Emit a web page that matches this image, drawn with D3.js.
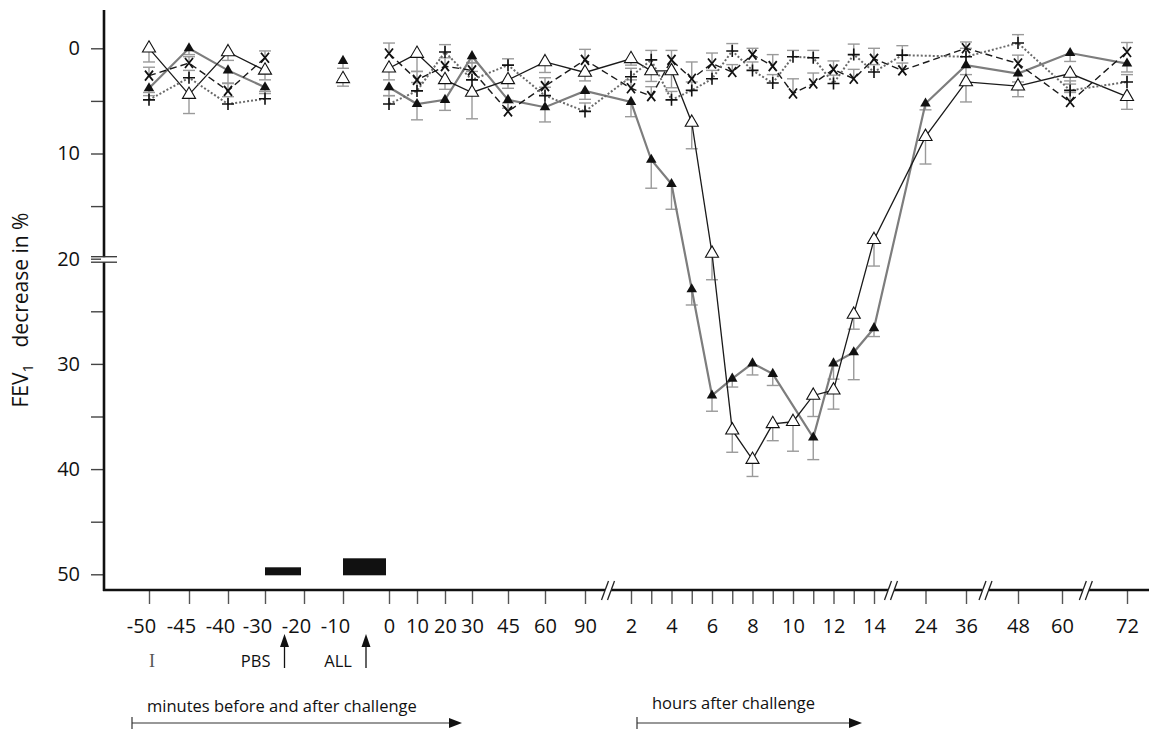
<!DOCTYPE html>
<html>
<head>
<meta charset="utf-8">
<script src="https://cdn.jsdelivr.net/npm/d3@7"></script>
<style>
  body { margin: 0; background: #fff; }
  svg { display: block; font-family: "Open Sans", sans-serif; }
</style>
</head>
<body>
<div id="chart"></div>
<script>
// sampling times: minutes around the challenge, then hours after it
const minuteTimes = [-50, -45, -40, -30, -10, 0, 10, 20, 30, 45, 60, 90];
const hourTimes = [2, 3, 4, 5, 6, 7, 8, 9, 10, 11, 12, 13, 14, 19.5, 24, 36, 48, 61.5, 72];

// FEV1 decrease in % (null = no point), errors are signed: + drawn downwards, - upwards
const filledTriangle = [3.8, 0.0, 2.1, 3.7, 1.2, 3.7, 5.3, 4.9, 0.75, 4.9, 5.6, 4.05,
  5.1, 10.6, 12.9, 22.9, 33.0, 31.4, 29.95, 30.95, null, 37.0, 29.95, 28.9, 26.6, null, 5.25, 1.6, 2.4, 0.45, 1.45];
const filledTriangleErr = [0.7, 0.6, 1.2, 0.6, 0.7, 0.8, 1.5, 1.0, 0.6, 0.8, 1.4, 0.8,
  1.4, 2.7, 2.4, 1.5, 1.5, 0.8, 1.1, 1.1, null, 2.1, 1.5, 2.6, 0.8, null, 0.6, 0.9, 0.8, 0.8, 0.8];

const openTriangle = [0.0, 4.4, 0.35, 2.1, 2.9, 1.9, 0.5, 3.0, 4.2, 3.0, 1.3, 2.3,
  1.0, 2.15, 2.15, 7.05, 19.5, 36.3, 39.1, 35.7, 35.5, 33.0, 32.5, 25.3, 18.2, null, 8.4, 3.2, 3.6, 2.4, 4.6];
const openTriangleErr = [1.3, 1.8, 0.8, 0.9, 0.7, 1.1, 1.7, 0.9, 2.5, 0.8, 1.0, 0.8,
  0.6, 1.0, 1.6, 2.5, 2.5, 2.1, 1.6, 1.6, 2.8, 2.0, 1.8, 1.4, 2.5, null, 2.6, 1.9, 1.0, 1.0, 1.2];

const crossX = [2.6, 1.4, 4.05, 0.9, null, 0.5, 3.0, 1.7, 2.1, 6.0, 3.6, 1.1,
  3.8, 4.55, 1.1, 2.9, 1.45, 2.25, 0.6, 1.7, 4.3, 3.35, 2.0, 2.9, 1.0, 2.1, null, 0.0, 1.45, 5.1, 0.35];
const crossXErr = [-0.8, -0.6, -0.7, -0.65, null, -1.0, -0.8, -0.8, -0.7, -0.8, -0.8, -1.0,
  -0.8, -0.9, -0.9, -1.6, -1.0, -0.7, -0.6, -1.1, -1.4, -1.0, -0.8, -0.9, -1.0, -0.7, null, -0.6, -0.8, -0.9, -0.9];

const plus = [4.9, 2.8, 5.3, 4.8, null, 5.3, 4.05, 0.35, 3.0, 1.6, 4.5, 6.0,
  2.7, 1.1, 4.9, 4.0, 2.9, 0.25, 2.1, 3.3, 0.8, 0.9, 3.35, 0.6, 2.25, 0.65, null, 0.8, -0.5, 4.0, 3.2];
const plusErr = [-0.7, -0.7, -0.7, -0.7, null, -0.8, -0.8, -0.7, -0.8, -0.6, -0.8, -0.8,
  -0.8, -0.9, -0.8, -0.8, -0.8, -0.7, -0.8, -0.8, -0.6, -0.7, -0.8, -1.0, -0.7, -0.9, null, -0.8, -0.8, -0.9, -0.7];

// axis ticks
const minuteTicks = [-50, -45, -40, -30, -20, -10, 0, 10, 20, 30, 45, 60, 90];
const hourTicks = [2, 3, 4, 5, 6, 7, 8, 9, 10, 11, 12, 13, 14, 24, 36, 48, 60, 72];
const hourTickLabels = ["2", "", "4", "", "6", "", "8", "", "10", "", "12", "", "14", "24", "36", "48", "60", "72"];
const yTicks = [0, 5, 10, 15, 20, 25, 30, 35, 40, 45, 50];

// inhalation periods (minutes)
const inhalationLabels = ["PBS", "ALL"];
const inhalationStart = [-30, -10];
const inhalationEnd = [-20, 0];
const inhalationArrow = [-25, -5];

// axis breaks (minutes) and connected runs of the curves
const axisBreaks = [105, 1038, 2430, 3864];
const connectedRuns = [[-50, -30], [0, 4320]];

// piecewise axis layout: knot times (min) -> pixel columns
const axisKnots = [-50, -45, -40, -30, -20, -10, 0, 10, 20, 30, 45, 60, 90, 120, 840, 1440, 2160, 2880, 3600, 4320];
const axisKnotPx = [149, 189, 228, 265, 304, 343, 389, 417, 445, 472, 508, 545, 585, 631, 874, 925.5, 966, 1018, 1062, 1127];

const width = 1149, height = 730;
const axisY = 590, axisX = 104;

const times = minuteTimes.concat(hourTimes.map(h => h * 60));

const x = d3.scaleLinear().domain(axisKnots).range(axisKnotPx);
const y = d3.scaleLinear().domain([0, 50]).range([48.3, 574.3]);

const svg = d3.select("#chart").append("svg")
    .attr("width", width)
    .attr("height", height);

svg.append("rect").attr("width", width).attr("height", height).attr("fill", "#fff");

// y axis
const yAxis = svg.append("g")
    .attr("transform", `translate(${axisX},0)`)
    .call(d3.axisLeft(y).tickValues(yTicks).tickFormat(d => d % 10 ? "" : d).tickSize(13).tickPadding(11));
yAxis.select(".domain").remove();
yAxis.selectAll(".tick line").attr("stroke", "#444").attr("stroke-width", 1.4);
yAxis.selectAll(".tick text").attr("font-size", 20).attr("fill", "#111").attr("font-family", "Open Sans");

svg.append("line")
    .attr("x1", axisX).attr("x2", axisX)
    .attr("y1", 10).attr("y2", axisY + 1)
    .attr("stroke", "#111").attr("stroke-width", 2.6);

// break on the y axis at 20
svg.append("rect").attr("x", axisX - 3).attr("y", y(20) - 1.5).attr("width", 6).attr("height", 5).attr("fill", "#fff");
[-2, 3.5].forEach(off => {
    svg.append("line")
        .attr("x1", axisX - 13).attr("x2", axisX + 13)
        .attr("y1", y(20) + off).attr("y2", y(20) + off)
        .attr("stroke", "#333").attr("stroke-width", 1.3);
});

// y label
const yLabel = svg.append("text")
    .attr("transform", `translate(28,${310}) rotate(-90)`)
    .attr("text-anchor", "middle")
    .attr("font-size", 21)
    .attr("fill", "#111");
yLabel.append("tspan").text("FEV");
yLabel.append("tspan").attr("font-size", 15).attr("dy", 5).text("1");
yLabel.append("tspan").attr("dy", -5).text("\u00a0\u00a0 decrease in %");

// x axis
const tickTimes = minuteTicks.concat(hourTicks.map(h => h * 60));
const tickLabels = minuteTicks.map(String).concat(hourTickLabels);

const xAxis = svg.append("g")
    .attr("transform", `translate(0,${axisY})`)
    .call(d3.axisBottom(x).tickValues(tickTimes).tickFormat((d, i) => tickLabels[i]).tickSize(14).tickPadding(15));
xAxis.select(".domain").remove();
xAxis.selectAll(".tick line").attr("stroke", "#555").attr("stroke-width", 1.4);
xAxis.selectAll(".tick text")
    .attr("font-size", 20).attr("fill", "#111").attr("font-family", "Open Sans")
    .attr("dx", d => d < 0 ? -8 : 0);

// x axis line in segments with // breaks
const breakPx = axisBreaks.map(x);
const segEdges = [axisX - 1].concat(...breakPx.map(b => [b - 3, b + 3]), [width]);
for (let i = 0; i < segEdges.length; i += 2) {
    svg.append("line")
        .attr("x1", segEdges[i]).attr("x2", segEdges[i + 1])
        .attr("y1", axisY).attr("y2", axisY)
        .attr("stroke", "#111").attr("stroke-width", 2.6);
}
breakPx.forEach(b => {
    [-3, 3].forEach(off => {
        svg.append("line")
            .attr("x1", b + off - 3.5).attr("y1", axisY + 10)
            .attr("x2", b + off + 3.5).attr("y2", axisY - 9)
            .attr("stroke", "#222").attr("stroke-width", 1.3);
    });
});

// inhalation bars
const barHeights = [8, 17];
inhalationLabels.forEach((lab, i) => {
    svg.append("rect")
        .attr("x", x(inhalationStart[i]))
        .attr("width", x(inhalationEnd[i]) - x(inhalationStart[i]) - 3)
        .attr("y", y(50) + 1 - barHeights[i])
        .attr("height", barHeights[i])
        .attr("fill", "#111");

    const ax = x(inhalationArrow[i]);
    svg.append("line")
        .attr("x1", ax).attr("x2", ax).attr("y1", 668).attr("y2", 644)
        .attr("stroke", "#111").attr("stroke-width", 1.3);
    svg.append("path")
        .attr("d", `M${ax},634L${ax - 4.5},647L${ax + 4.5},647Z`)
        .attr("fill", "#111");
    svg.append("text")
        .attr("x", ax - 14).attr("y", 667)
        .attr("text-anchor", "end")
        .attr("font-size", 16.5).attr("fill", "#111")
        .text(lab);
});

// error bar key
svg.append("text")
    .attr("x", x(-50) + 3).attr("y", 667)
    .attr("text-anchor", "middle")
    .attr("font-family", "Liberation Serif")
    .attr("font-size", 18).attr("fill", "#555")
    .text("I");

// time range arrows
function rangeArrow(x0, x1, label, labelY) {
    svg.append("line").attr("x1", x0).attr("x2", x1 - 10).attr("y1", 723).attr("y2", 723)
        .attr("stroke", "#333").attr("stroke-width", 1.2);
    svg.append("line").attr("x1", x0).attr("x2", x0).attr("y1", 717).attr("y2", 729)
        .attr("stroke", "#333").attr("stroke-width", 1.2);
    svg.append("path").attr("d", `M${x1},723L${x1 - 13},718L${x1 - 13},728Z`).attr("fill", "#111");
    svg.append("text").attr("x", x0 + 15).attr("y", labelY)
        .attr("font-size", 16.5).attr("fill", "#111").text(label);
}
rangeArrow(132, 462, "minutes before and after challenge", 712);
rangeArrow(637, 862, "hours after challenge", 709);

// series
const series = [
    { name: "filledTriangle", values: filledTriangle, err: filledTriangleErr, stroke: "#7d7d7d", width: 2.2, dash: null },
    { name: "openTriangle", values: openTriangle, err: openTriangleErr, stroke: "#1a1a1a", width: 1.3, dash: null },
    { name: "crossX", values: crossX, err: crossXErr, stroke: "#1a1a1a", width: 1.4, dash: "7,4" },
    { name: "plus", values: plus, err: plusErr, stroke: "#6a6a6a", width: 2, dash: "2,2" }
];

const points = s => times.map((t, i) => ({ t, v: s.values[i], e: s.err[i] })).filter(p => p.v !== null);

// error bars
const errG = svg.append("g").attr("stroke", "#9a9a9a").attr("stroke-width", 1.4);
series.forEach(s => {
    points(s).filter(p => p.e !== null).forEach(p => {
        const px = x(p.t), y0 = y(p.v), y1 = y(p.v + p.e);
        errG.append("line").attr("x1", px).attr("x2", px).attr("y1", y0).attr("y2", y1);
        errG.append("line").attr("x1", px - 6).attr("x2", px + 6).attr("y1", y1).attr("y2", y1);
    });
});

// curves
const line = d3.line().x(p => x(p.t)).y(p => y(p.v));
series.forEach(s => {
    connectedRuns.forEach(([a, b]) => {
        const run = points(s).filter(p => p.t >= a && p.t <= b);
        svg.append("path")
            .datum(run)
            .attr("d", line)
            .attr("fill", "none")
            .attr("stroke", s.stroke)
            .attr("stroke-width", s.width)
            .attr("stroke-dasharray", s.dash);
    });
});

// markers
const markerG = svg.append("g");
series.forEach(s => {
    const m = markerG.selectAll(null).data(points(s)).enter().append("path")
        .attr("transform", p => `translate(${x(p.t)},${y(p.v)})`);
    if (s.name === "filledTriangle") {
        m.attr("d", d3.symbol(d3.symbolTriangle, 48)).attr("fill", "#111");
    } else if (s.name === "openTriangle") {
        m.attr("d", d3.symbol(d3.symbolTriangle, 74)).attr("fill", "#fff").attr("stroke", "#111").attr("stroke-width", 1.1);
    } else if (s.name === "crossX") {
        m.attr("d", "M-4,-5L4,5M4,-5L-4,5").attr("stroke", "#111").attr("stroke-width", 1.8).attr("fill", "none");
    } else {
        m.attr("d", "M-6,0H6M0,-6V6").attr("stroke", "#111").attr("stroke-width", 1.6).attr("fill", "none");
    }
});
</script>
</body>
</html>
